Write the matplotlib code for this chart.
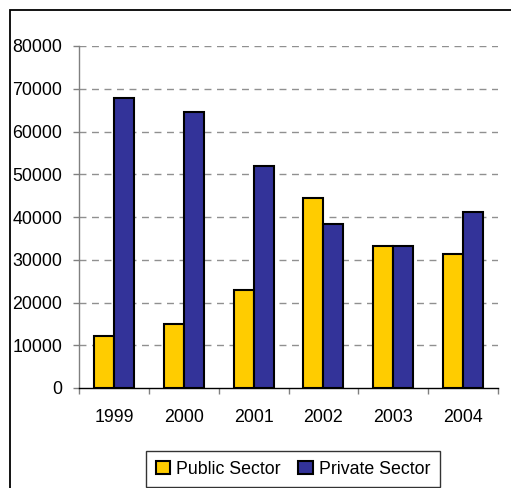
import matplotlib
matplotlib.use("Agg")
import matplotlib.pyplot as plt
import numpy as np
from matplotlib.patches import Rectangle

years = ["1999", "2000", "2001", "2002", "2003", "2004"]
public_sector = [12200, 15000, 23000, 44500, 33200, 31300]
private_sector = [67800, 64600, 51900, 38400, 33200, 41200]
y_ticks = [0, 10000, 20000, 30000, 40000, 50000, 60000, 70000, 80000]

plt.rcParams['font.family'] = ['Liberation Sans', 'DejaVu Sans']

W, H = 511, 488
fig = plt.figure(figsize=(W / 100, H / 100), dpi=100)

# outer chart frame (partially clipped at right/bottom)
frame = Rectangle((10 / W, -0.05), 1.2, (H - 10) / H + 0.05, transform=fig.transFigure,
                  fill=False, edgecolor='black', linewidth=1.3, clip_on=False)
fig.patches.append(frame)

ax = fig.add_axes([79 / W, 1 - 388 / H, (498 - 79) / W, (388 - 46) / H])

x = np.arange(len(years))
bw = 0.286
ax.bar(x - bw / 2, public_sector, bw, color='#FFCC00', edgecolor='black', linewidth=1.5,
       label='Public Sector', zorder=3)
ax.bar(x + bw / 2, private_sector, bw, color='#333399', edgecolor='black', linewidth=1.5,
       label='Private Sector', zorder=3)

ax.set_xlim(-0.5, len(years) - 0.5)
ax.set_ylim(0, 80000)
ax.set_yticks(y_ticks)
ax.set_yticklabels([str(v) for v in y_ticks], fontsize=12.8)
ax.set_xticks(x)
ax.set_xticklabels(years, fontsize=12.8)
ax.set_xticks(np.arange(len(years) + 1) - 0.5, minor=True)
ax.tick_params(axis='x', which='major', length=0, pad=15)
ax.tick_params(axis='x', which='minor', length=4, width=1, color='#808080', direction='out')
ax.tick_params(axis='y', length=4, width=1, color='#808080', pad=8)

for v in y_ticks[1:]:
    ax.axhline(v, color='#909090', linewidth=1, linestyle=(0, (5, 4)), zorder=1)

for s in ['top', 'right']:
    ax.spines[s].set_visible(False)
for s in ['left', 'bottom']:
    ax.spines[s].set_color('#808080')
    ax.spines[s].set_linewidth(1)
ax.spines['bottom'].set_color('black')

leg = fig.legend(loc='center', bbox_to_anchor=(293 / W, 1 - 469 / H), ncol=2, fontsize=12.8,
                 frameon=True, fancybox=False, edgecolor='black', handlelength=0.8,
                 handleheight=0.8, handletextpad=0.35, columnspacing=1.0, borderpad=0.55)
leg.get_frame().set_linewidth(1)

fig.savefig('out.png', dpi=100)
